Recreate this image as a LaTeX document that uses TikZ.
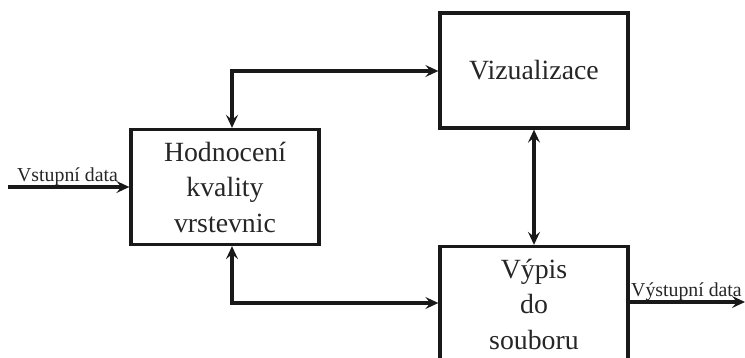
\documentclass[tikz,border=0pt]{standalone}
\usepackage{fontspec}
\setmainfont{Liberation Serif}
\usetikzlibrary{arrows.meta}
\begin{document}
\begin{tikzpicture}[x=1pt,y=-1pt,
  box/.style={draw=black!90, line width=3.3pt, minimum width=188pt, minimum height=115pt, inner sep=0pt,
    align=center, font=\fontsize{27.8}{35.5}\selectfont, text=black!85},
  tip/.style={Stealth[length=13pt,width=12pt,inset=5pt]},
  conn/.style={draw=black!90, line width=3.3pt, {Stealth[length=13pt,width=12pt,inset=5pt]}-{Stealth[length=13pt,width=12pt,inset=5pt]}},
  io/.style={draw=black!90, line width=3.3pt, -{Stealth[length=13pt,width=12pt,inset=5pt]}},
  lab/.style={font=\fontsize{19.8}{22}\selectfont, inner sep=0pt, text=black!85}]
\useasboundingbox (0,0) rectangle (745,358);
\node[box] (hod) at (225,187) {Hodnocení\\kvality\\vrstevnic};
\node[box] (viz) at (534,70.5) {Vizualizace};
\node[box] (vyp) at (534,304) {Výpis\\do\\souboru};
\coordinate (tc) at (232,71);
\coordinate (bc) at (232,303);
\coordinate (in) at (8,187);
\coordinate (out) at (745,302);
\draw[conn] (hod.north -| tc) -- (tc) -- (tc -| viz.west);
\draw[conn] (hod.south -| bc) -- (bc) -- (bc -| vyp.west);
\draw[conn] (viz.south) -- (vyp.north);
\draw[io] (in) -- (in -| hod.west);
\draw[io] (out -| vyp.east) -- (out);
\node[lab, anchor=base west] (inl) at (17,182) {Vstupní data};
\node[lab, anchor=base west] (outl) at (631,297) {Výstupní data};
\end{tikzpicture}
\end{document}
